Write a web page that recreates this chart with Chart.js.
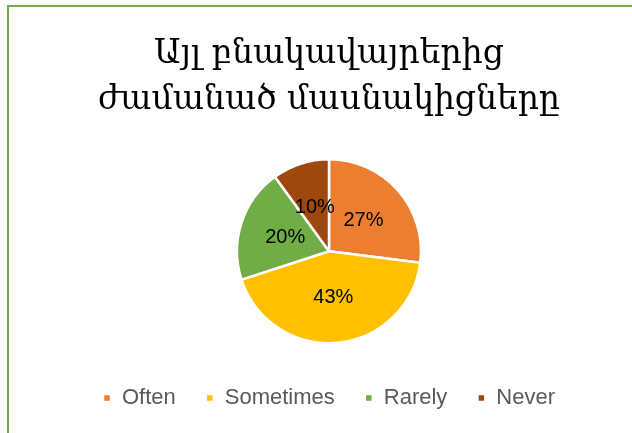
<!DOCTYPE html>
<html>
<head>
<meta charset="utf-8">
<script src="https://cdn.jsdelivr.net/npm/chart.js@4"></script>
<style>
  html, body { margin: 0; padding: 0; background: #fff; }
  #frame {
    position: absolute; left: 7px; top: 5px; width: 624px; height: 440px;
    border-left: 2px solid #70AD47; border-top: 2px solid #70AD47;
  }
  #wrap { position: absolute; left: 0; top: 0; width: 632px; height: 433px; }
</style>
</head>
<body>
<div id="frame"></div>
<div id="wrap"><canvas id="myChart" width="632" height="433"></canvas></div>
<script>
const titleLines = ["Այլ բնակավայրերից", "ժամանած մասնակիցները"];
const categories = ["Often", "Sometimes", "Rarely", "Never"];
const shares = [27, 43, 20, 10];
const colors = ["#ED7D31", "#FFC000", "#70AD47", "#9E480E"];

const ctx = document.getElementById("myChart");

// percent labels drawn inside each slice
const sliceLabels = {
    id: "sliceLabels",
    afterDatasetsDraw(chart) {
        const c = chart.ctx;
        const meta = chart.getDatasetMeta(0);
        c.save();
        c.font = "20px 'Liberation Sans', Arial, sans-serif";
        c.fillStyle = "#000";
        c.textAlign = "center";
        c.textBaseline = "middle";
        meta.data.forEach((arc, i) => {
            const p = arc.getProps(["x", "y", "startAngle", "endAngle", "outerRadius"], true);
            const mid = (p.startAngle + p.endAngle) / 2;
            const r = p.outerRadius * 0.5;
            c.fillText(shares[i] + "%", p.x + Math.cos(mid) * r, p.y + Math.sin(mid) * r);
        });
        c.restore();
    }
};

new Chart(ctx, {
    type: "pie",
    data: {
        labels: categories,
        datasets: [{
            data: shares,
            backgroundColor: colors,
            borderColor: "#fff",
            borderWidth: 2.5,
            radius: 92
        }]
    },
    options: {
        responsive: false,
        animation: false,
        layout: { padding: { top: 0, bottom: 14, left: 26, right: 0 } },
        plugins: {
            title: {
                display: true,
                text: titleLines,
                color: "#000",
                font: { family: "'DejaVu Serif', serif", size: 33, weight: "normal", lineHeight: 1.4 },
                padding: { top: 31, bottom: 22 }
            },
            legend: {
                position: "bottom",
                labels: {
                    color: "#595959",
                    font: { family: "'Liberation Sans', Arial, sans-serif", size: 22 },
                    boxWidth: 8,
                    boxHeight: 8,
                    padding: 30
                }
            },
            tooltip: { enabled: false }
        }
    },
    plugins: [sliceLabels]
});
</script>
</body>
</html>
